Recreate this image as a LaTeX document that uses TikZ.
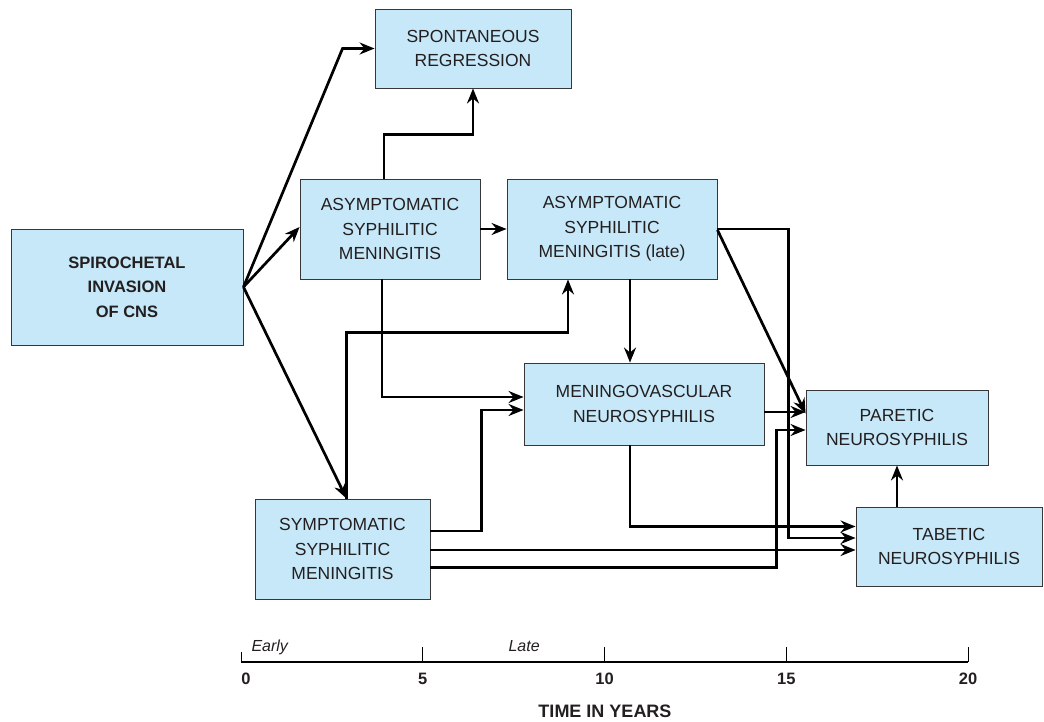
\documentclass[tikz,border=0pt]{standalone}
\usepackage{fontspec}
\setmainfont{Liberation Sans}
\usetikzlibrary{arrows.meta}
\definecolor{boxfill}{RGB}{199,232,248}
\definecolor{boxline}{RGB}{55,55,55}
\definecolor{txt}{RGB}{35,31,32}
\newcommand{\boxfont}{\fontsize{17.5}{24.5}\selectfont}
\newcommand{\headfont}{\fontsize{16.5}{24.5}\selectfont\bfseries}
\begin{document}
\begin{tikzpicture}[x=1pt,y=-1pt,
  box/.style={draw=boxline,fill=boxfill,line width=0.9pt,align=center,
    text=txt,font=\boxfont,inner sep=0pt},
  arr/.style={line width=2.7pt,-{Stealth[length=15pt,width=12pt,inset=5pt]}},
  tick/.style={line width=1pt}]
\useasboundingbox (0,0) rectangle (1044,721);
\node[box,minimum width=232pt,minimum height=116pt,font=\headfont] (spiro) at (127,287) {SPIROCHETAL\\INVASION\\OF CNS};
\node[box,minimum width=196pt,minimum height=79pt] (spont) at (473,48.5) {SPONTANEOUS\\REGRESSION};
\node[box,minimum width=180pt,minimum height=100pt] (asym) at (390,229) {ASYMPTOMATIC\\SYPHILITIC\\MENINGITIS};
\node[box,minimum width=210pt,minimum height=100pt] (asyml) at (612,229) {ASYMPTOMATIC\\SYPHILITIC\\MENINGITIS (late)};
\node[box,minimum width=240pt,minimum height=82pt] (menvas) at (644,404) {MENINGOVASCULAR\\NEUROSYPHILIS};
\node[box,minimum width=182pt,minimum height=75pt] (paretic) at (897,427.5) {PARETIC\\NEUROSYPHILIS};
\node[box,minimum width=186pt,minimum height=79pt] (tabetic) at (949,546.5) {TABETIC\\NEUROSYPHILIS};
\node[box,minimum width=175pt,minimum height=100pt] (symp) at (342.5,549) {SYMPTOMATIC\\SYPHILITIC\\MENINGITIS};
% from the invasion
\draw[arr] (spiro.east) -- ([xshift=-32pt]spont.west) -- (spont.west);
\draw[arr] (spiro.east) -- ([yshift=2pt]asym.west);
\draw[arr] (spiro.east) -- ([xshift=4pt]symp.north);
% asymptomatic stages
\draw[arr] ([xshift=-6pt]asym.north) -- ++(0,-44) -| (spont.south);
\draw[arr] (asym.east) -- (asyml.west);
\draw[arr] ([xshift=-8pt]asym.south) |- ([yshift=7pt]menvas.west);
\draw[arr] ([xshift=18pt]asyml.south) -- ([xshift=-14pt]menvas.north);
\draw[arr] ([yshift=-1pt]asyml.east) -- ([yshift=14pt]paretic.west);
\draw[arr] (asyml.east) -- ++(71,0) |- ([yshift=8.5pt]tabetic.west);
% symptomatic meningitis
\draw[arr] ([xshift=4pt]symp.north) -- ++(0,-166) -| ([xshift=-44pt]asyml.south);
\draw[arr] ([yshift=18pt]symp.east) -- ++(51,0) |- ([yshift=-6pt]menvas.west);
\draw[arr] ([yshift=-3.5pt]tabetic.west -| symp.east) -- ([yshift=-3.5pt]tabetic.west);
\draw[arr] ([yshift=-18.5pt]symp.east) -- ++(346,0) |- ([yshift=-2.5pt]paretic.west);
% late forms
\draw[arr] ([yshift=-8pt]menvas.east) -- ([yshift=15.5pt]paretic.west);
\draw[arr] ([xshift=-14pt]menvas.south) |- ([yshift=20pt]tabetic.west);
\draw[arr] (paretic.south |- tabetic.north) -- (paretic.south);
% time axis
\draw[line width=1.2pt] (241,662) -- (968,662);
\draw[tick] (241,662) -- (241,652);
\foreach \t in {5,10,15,20}{
  \draw[tick] (241+\t*36.35,662) -- ++(0,-15);
  \node[font=\fontsize{16.5}{18}\selectfont\bfseries,text=txt] at (241+\t*36.35,679) {\t};
}
\node[font=\fontsize{16.5}{18}\selectfont\bfseries,text=txt] (zero) at (246,679) {0};
\node[anchor=base west,font=\fontsize{16}{18}\selectfont\itshape,text=txt] (early) at (248,651) {Early};
\node[anchor=base west,font=\fontsize{16}{18}\selectfont\itshape,text=txt] (late) at (505,651) {Late};
\node[anchor=base,font=\fontsize{18}{20}\selectfont\bfseries,text=txt] (title) at (605,717) {TIME IN YEARS};
\end{tikzpicture}
\end{document}
